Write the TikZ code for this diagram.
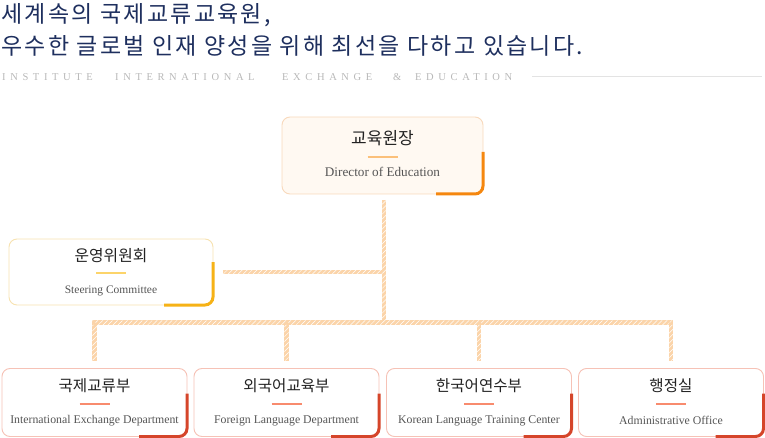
\documentclass[tikz,border=0pt]{standalone}
\usepackage{fontspec}
\setmainfont{Liberation Serif}
\newfontfamily\kr{Noto Sans CJK KR}
\usetikzlibrary{calc,patterns.meta}
\definecolor{navy}{HTML}{1E2F5E}
\definecolor{subgray}{HTML}{B8B8B8}
\definecolor{rulegray}{HTML}{E3E3E3}
\definecolor{txtdark}{HTML}{222222}
\definecolor{txtgray}{HTML}{555555}
\definecolor{connc}{HTML}{FBD4A9}
\definecolor{dirfill}{HTML}{FFF9F2}
\definecolor{dirborder}{HTML}{F8D9BC}
\definecolor{diracc}{HTML}{F5870F}
\definecolor{dirbar}{HTML}{FBC07A}
\definecolor{stborder}{HTML}{F7E2B0}
\definecolor{stacc}{HTML}{F6B216}
\definecolor{stbar}{HTML}{FCD46A}
\definecolor{btborder}{HTML}{F6C2B6}
\definecolor{btacc}{HTML}{D5452A}
\definecolor{btbar}{HTML}{F88B6E}
\tikzset{
  x=1pt,y=1pt,
  box/.style={draw, rounded corners=8pt, line width=0.9pt, inner sep=0pt, outer sep=0pt},
  dirbox/.style={box, draw=dirborder, fill=dirfill, minimum width=201pt, minimum height=77pt},
  stbox/.style={box, draw=stborder, fill=white, minimum width=204pt, minimum height=66pt},
  btbox/.style={box, draw=btborder, fill=white, minimum width=185pt, minimum height=68pt},
  acc/.style={line width=3pt},
  conn/.style={draw=connc, line width=4.5pt},
  krlab/.style={inner sep=0pt, text=txtdark, font=\kr\fontsize{#1}{#1}\selectfont},
  enlab/.style={inner sep=0pt, text=txtgray, font=\fontsize{#1}{#1}\selectfont},
  bar/.style={line width=2pt},
  head/.style={anchor=west, inner sep=0pt, text=navy, font=\kr\fontsize{23}{23}\selectfont\addfontfeature{LetterSpace=10}},
  sub/.style={anchor=base west, inner sep=0pt, text=subgray, font=\fontsize{10.5}{10.5}\selectfont\addfontfeature{LetterSpace=44}},
}
\begin{document}
\begin{tikzpicture}
\useasboundingbox (0,0) rectangle (765,-438);
% heading
\node[head] (h1) at (1,-15) {세계속의 국제교류교육원,};
\node[head] (h2) at (1,-46) {우수한 글로벌 인재 양성을 위해 최선을 다하고 있습니다.};
\node[sub] (s1) at (2,-80.5) {INSTITUTE};
\node[sub] (s2) at (115,-80.5) {INTERNATIONAL};
\node[sub] (s3) at (282,-80.5) {EXCHANGE};
\node[sub] (s4) at (393,-80.5) {\&};
\node[sub] (s5) at (415,-80.5) {EDUCATION};
\coordinate (r1) at (532,-76.5);
\coordinate (r2) at (762,-76.5);
\draw[rulegray, line width=1.5pt] (r1) -- (r2);

% boxes
\node[dirbox] (d) at (382.5,-155.5) {};
\node[stbox] (s) at (111,-272) {};
\node[btbox] (b1) at (94.5,-402.5) {};
\node[btbox] (b2) at (286.5,-402.5) {};
\node[btbox] (b3) at (479,-402.5) {};
\node[btbox] (b4) at (671,-402.5) {};

% accents
\draw[acc, diracc] ($(d.north east)+(0,-35)$) -- ($(d.south east)+(0,8)$) arc[start angle=0,end angle=-90,radius=8] -- ($(d.south east)+(-47,0)$);
\draw[acc, stacc] ($(s.north east)+(0,-23)$) -- ($(s.south east)+(0,8)$) arc[start angle=0,end angle=-90,radius=8] -- ($(s.south east)+(-49,0)$);
\foreach \b in {b1,b2,b3,b4}{
  \draw[acc, btacc] ($(\b.north east)+(0,-25)$) -- ($(\b.south east)+(0,8)$) arc[start angle=0,end angle=-90,radius=8] -- ($(\b.south east)+(-48,0)$);
}

% labels
\node[krlab=17] (dk) at ($(d.north)+(0,-21)$) {교육원장};
\draw[bar, dirbar] ($(d.north)+(-15,-40)$) -- ($(d.north)+(15,-40)$);
\node[enlab=13.2] (de) at ($(d.north)+(0,-55)$) {Director of Education};

\node[krlab=15.8] (sk) at ($(s.north)+(0,-17)$) {운영위원회};
\draw[bar, stbar] ($(s.north)+(-15,-34)$) -- ($(s.north)+(15,-34)$);
\node[enlab=11.5] (se) at ($(s.north)+(0,-52)$) {Steering Committee};

\foreach \b/\k/\e in {b1/국제교류부/International Exchange Department, b2/외국어교육부/Foreign Language Department, b3/한국어연수부/Korean Language Training Center, b4/행정실/Administrative Office}{
  \node[krlab=15.6] (\b k) at ($(\b.north)+(0,-17.5)$) {\k};
  \draw[bar, btbar] ($(\b.north)+(-15,-35)$) -- ($(\b.north)+(15,-35)$);
  \node[enlab=11.8] (\b e) at ($(\b.north)+(0,-52)$) {\e};
}

% connectors
\coordinate (dtop) at ($(d.south)+(1.5,-6)$);
\coordinate (jn) at ($(d.south)+(1.5,-128.5)$);
\coordinate (sc) at ($(s.east)+(10,0)$);
\coordinate (t1) at ($(b1.north)+(0,8)$);
\coordinate (t2) at ($(b2.north)+(0,8)$);
\coordinate (t3) at ($(b3.north)+(0,8)$);
\coordinate (t4) at ($(b4.north)+(0,8)$);
\draw[conn] (dtop) -- (jn);
\draw[conn] (sc) -- (sc -| jn);
\draw[conn] (t1) |- (jn) -| (t4);
\draw[conn] (t2) -- (t2 |- jn);
\draw[conn] (t3) -- (t3 |- jn);
% faint hatching of the connectors
\begin{scope}
  \clip ($(dtop)+(-2.25,0)$) rectangle ($(jn)+(2.25,-2.25)$)
        ($(sc)+(0,2.25)$) rectangle ($(sc -| jn)+(2.25,-2.25)$)
        ($(t1 |- jn)+(-2.25,2.25)$) rectangle ($(t4 |- jn)+(2.25,-2.25)$)
        ($(t1)+(-2.25,0)$) rectangle ($(t1 |- jn)+(2.25,0)$)
        ($(t2)+(-2.25,0)$) rectangle ($(t2 |- jn)+(2.25,0)$)
        ($(t3)+(-2.25,0)$) rectangle ($(t3 |- jn)+(2.25,0)$)
        ($(t4)+(-2.25,0)$) rectangle ($(t4 |- jn)+(2.25,0)$);
  \fill[pattern={Lines[angle=45,distance=3.5pt,line width=0.5pt]}, pattern color=white, fill opacity=0.6] (80,-190) rectangle (690,-370);
\end{scope}
\end{tikzpicture}
\end{document}
